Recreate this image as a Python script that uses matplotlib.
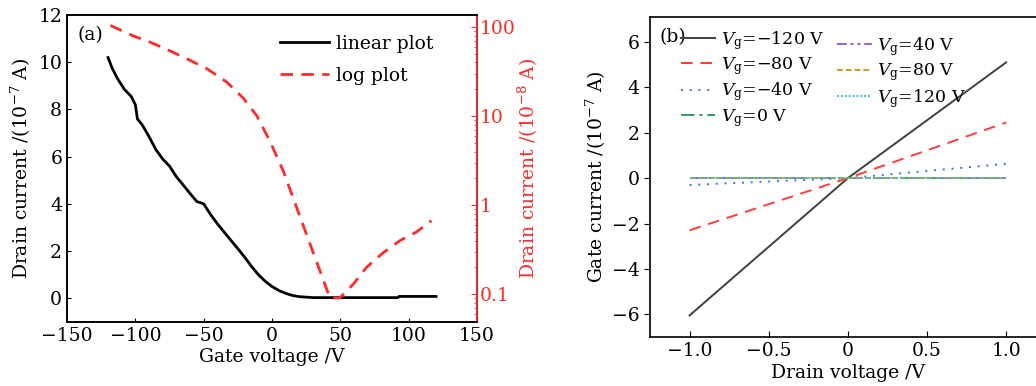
import matplotlib
matplotlib.use("Agg")
import matplotlib.pyplot as plt
import numpy as np

plt.rcParams["font.family"] = ["DejaVu Serif"]
plt.rcParams["mathtext.fontset"] = "dejavuserif"
plt.rcParams["font.size"] = 13.5

# (a) transfer curve, linear scale (10^-7 A)
lin_vg = [-120, -117, -113, -108, -103, -100, -98.5, -95, -90, -85, -80, -75,
          -70, -65, -60, -55, -50, -45, -40, -35, -30, -25, -20, -15, -10, -5,
          0, 5, 10, 15, 20, 30, 92, 93, 120]
lin_id = [10.2, 9.75, 9.3, 8.85, 8.55, 8.2, 7.6, 7.35, 6.85, 6.3, 5.9, 5.6,
          5.15, 4.8, 4.44, 4.1, 4.0, 3.55, 3.16, 2.8, 2.45, 2.1, 1.74, 1.35, 1.0, 0.72,
          0.5, 0.33, 0.21, 0.12, 0.07, 0.03, 0.03, 0.08, 0.08]

# (a) transfer curve, log scale (10^-8 A)
log_vg = [-118.3, -101.3, -91.6, -77, -62.3, -47.7, -33, -20.9, -11, -1.5, 8.3,
          18, 27.7, 37.5, 42.3, 49.6, 59.4, 69, 81, 93.5, 105.6, 116.6]
log_id = [104, 79, 70, 56, 44, 34, 24, 15.8, 10, 5.2, 2.4,
          0.94, 0.37, 0.145, 0.091, 0.091, 0.13, 0.2, 0.29, 0.40, 0.5, 0.67]

# (b) gate leakage vs drain voltage (10^-7 A)
vd = [-1.0, 0.0, 1.0]
gate_vg = ["\u2212120", "\u221280", "\u221240", "0", "40", "80", "120"]
gate_ig = [
    [-6.05, 0.0, 5.1],
    [-2.3, 0.0, 2.45],
    [-0.3, 0.0, 0.63],
    [0.02, 0.02, 0.02],
    [0.02, 0.02, 0.02],
    [0.02, 0.02, 0.02],
    [0.02, 0.02, 0.02],
]
styles = [
    ("#404040", "-"),
    ("#ff3b3b", (0, (6, 4))),
    ("#3a6fe0", (0, (1, 3.5))),
    ("#2ea060", (0, (7, 2.5, 1.5, 2.5))),
    ("#9a5fd6", (0, (5, 2, 1.5, 2, 1.5, 2))),
    ("#d39a1c", (0, (3, 1.5))),
    ("#2fc4c4", (0, (1, 1))),
]

fig = plt.figure(figsize=(10.36, 3.86), dpi=100)

# ---- panel (a)
ax1 = fig.add_axes([0.0647, 0.166, 0.3958, 0.795])
ax1.plot(lin_vg, lin_id, color="black", lw=2.0, label="linear plot")
ax1.set_xlim(-150, 150)
ax1.set_ylim(-1, 12)
ax1.set_xticks([-150, -100, -50, 0, 50, 100, 150])
ax1.set_xticklabels(["\u2212150", "\u2212100", "\u221250", "0", "50", "100", "150"])
ax1.set_yticks([0, 2, 4, 6, 8, 10, 12])
ax1.set_xlabel("Gate voltage /V", labelpad=2)
ax1.set_ylabel(r"Drain current /(10$^{-7}$ A)", labelpad=4)
ax1.tick_params(direction="in", length=3)
ax1.text(0.025, 0.965, "(a)", transform=ax1.transAxes, va="top", ha="left")

ax1r = ax1.twinx()
ax1r.plot(log_vg, log_id, color="#ff2a2a", lw=2.0, ls=(0, (4.5, 3)), label="log plot")
ax1r.set_yscale("log")
ax1r.set_ylim(0.049, 136)
ax1r.set_yticks([0.1, 1, 10, 100])
ax1r.set_yticklabels(["0.1", "1", "10", "100"])
ax1r.tick_params(axis="y", which="both", direction="in", colors="#ff2a2a", pad=2)
ax1r.tick_params(axis="y", which="major", length=4)
ax1r.tick_params(axis="y", which="minor", length=2)
ax1r.spines["right"].set_color("#ff2a2a")
ax1r.set_ylabel(r"Drain current /(10$^{-8}$ A)", color="#ff2a2a", labelpad=0)

h1, l1 = ax1.get_legend_handles_labels()
h2, l2 = ax1r.get_legend_handles_labels()
ax1r.legend(h1 + h2, l1 + l2, loc="upper right", bbox_to_anchor=(0.935, 0.99),
            frameon=False, handlelength=2.6, handletextpad=0.4, labelspacing=0.75)

# ---- panel (b)
ax2 = fig.add_axes([0.6274, 0.127, 0.382, 0.829])
lines = []
for vg, ig, (c, ls) in zip(gate_vg, gate_ig, styles):
    ln, = ax2.plot(vd, ig, color=c, ls=ls, lw=1.4,
                   label=r"$V_{\rm g}$=" + vg + " V")
    lines.append(ln)
ax2.set_xlim(-1.25, 1.25)
ax2.set_ylim(-7, 7.1)
ax2.set_xticks([-1.0, -0.5, 0, 0.5, 1.0])
ax2.set_xticklabels(["\u22121.0", "\u22120.5", "0", "0.5", "1.0"])
ax2.set_yticks([-6, -4, -2, 0, 2, 4, 6])
ax2.set_yticklabels(["\u22126", "\u22124", "\u22122", "0", "2", "4", "6"])
ax2.tick_params(axis="x", direction="in", length=4)
ax2.tick_params(axis="y", direction="out", length=4)
ax2.set_xlabel("Drain voltage /V", labelpad=3)
ax2.set_ylabel(r"Gate current /(10$^{-7}$ A)", labelpad=3)
ax2.text(0.025, 0.965, "(b)", transform=ax2.transAxes, va="top", ha="left")

leg_kw = dict(frameon=False, handlelength=2.0, handletextpad=0.3,
              labelspacing=0.2, borderaxespad=0, fontsize=12.5)
leg1 = ax2.legend(lines[:4], [l.get_label() for l in lines[:4]], loc="upper left",
                  bbox_to_anchor=(0.06, 0.985), **leg_kw)
ax2.add_artist(leg1)
ax2.legend(lines[4:], [l.get_label() for l in lines[4:]], loc="upper left",
           bbox_to_anchor=(0.455, 0.965), **leg_kw)

for ax in (ax1, ax1r, ax2):
    for s in ax.spines.values():
        s.set_linewidth(1.2)

fig.savefig("out.png", dpi=100)
